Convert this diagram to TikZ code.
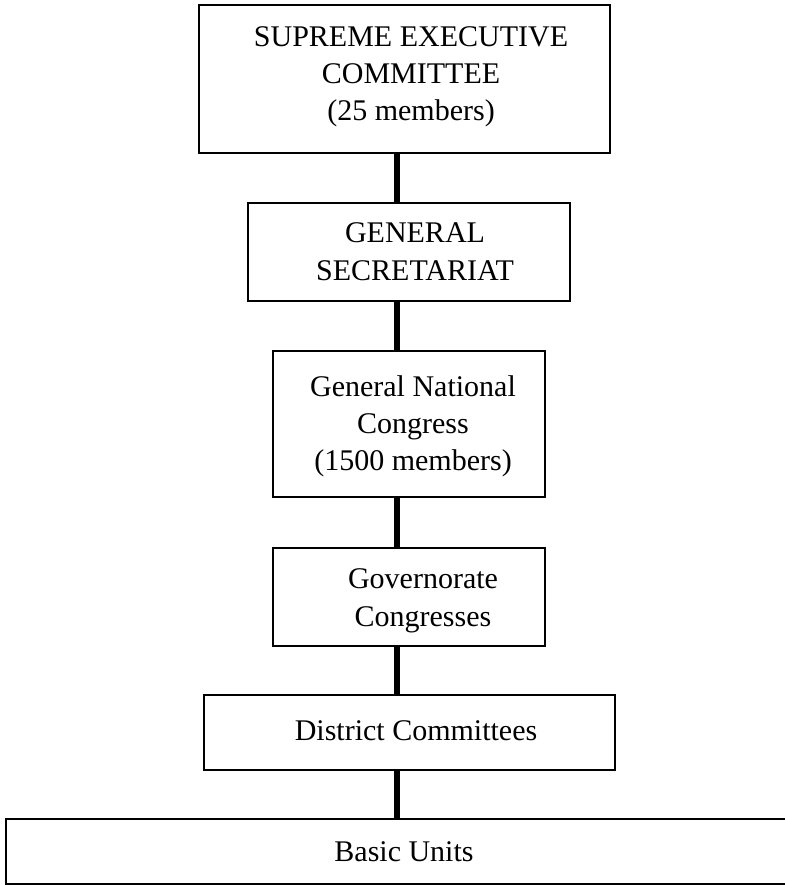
\documentclass[tikz,border=0pt]{standalone}
\usepackage{fontspec}
\setmainfont{Liberation Serif}
\begin{document}
\begin{tikzpicture}[x=1pt,y=-1pt,
  box/.style={draw, line width=1.6pt, inner sep=0pt},
  lbl/.style={align=center, font=\fontsize{30}{38}\selectfont, inner sep=0pt},
  tight/.style={font=\fontsize{30}{37}\selectfont},
  link/.style={line width=6.5pt}]
\useasboundingbox (0,0) rectangle (784,885);
\fill[white] (0,0) rectangle (784,885);
\coordinate (axis) at (397,0);
% boxes
\node[box, minimum width=411pt, minimum height=148pt] (b1) at (404.5,79) {};
\node[box, minimum width=322pt, minimum height=98pt] (b2) at (409,252) {};
\node[box, minimum width=272pt, minimum height=146pt] (b3) at (409,424) {};
\node[box, minimum width=272pt, minimum height=98pt] (b4) at (409,597) {};
\node[box, minimum width=411pt, minimum height=75pt] (b5) at (409.5,732.5) {};
\node[box, minimum width=784pt, minimum height=65pt] (b6) at (398,851.5) {};
% labels
\node[lbl, tight] (t1) at (411,77) {SUPREME EXECUTIVE\\ COMMITTEE\\ (25 members)};
\node[lbl] (t2) at (415,252) {GENERAL\\SECRETARIAT};
\node[lbl, tight] (t3) at (413,426) {General National\\ Congress\\(1500 members)};
\node[lbl] (t4) at (423,601) {Governorate\\ Congresses};
\node[lbl] (t5) at (416,731) {District Committees};
\node[lbl] (t6) at (404,852) {Basic Units};
% connectors
\draw[link] (b1.south -| axis) -- (b2.north -| axis);
\draw[link] (b2.south -| axis) -- (b3.north -| axis);
\draw[link] (b3.south -| axis) -- (b4.north -| axis);
\draw[link] (b4.south -| axis) -- (b5.north -| axis);
\draw[link] (b5.south -| axis) -- (b6.north -| axis);
\end{tikzpicture}
\end{document}
